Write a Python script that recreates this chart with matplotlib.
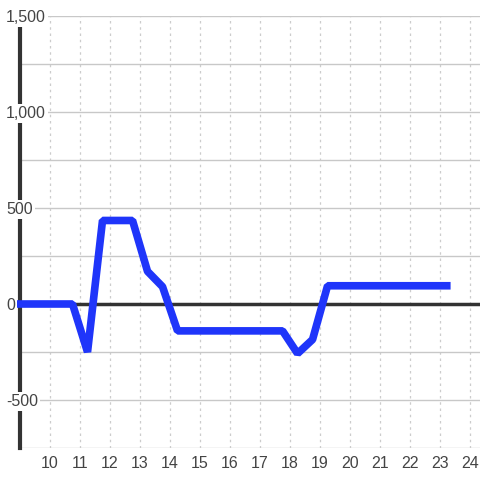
import matplotlib.pyplot as plt
import numpy as np

plt.rcParams["font.family"] = ["Liberation Sans", "DejaVu Sans"]

# data
hours = [8.9, 10.75, 11.25, 11.75, 12.75, 13.25, 13.75, 14.25, 17.75, 18.25, 18.75, 19.25, 23.35]
values = [0, 0, -250, 435, 435, 170, 90, -140, -140, -258, -185, 95, 95]

y_ticks = [1500, 1000, 500, 0, -500]
y_labels = ["1,500", "1,000", "500", "0", "-500"]
x_ticks = list(range(10, 25))

fig = plt.figure(figsize=(4.8, 4.8), dpi=100)
fig.patch.set_facecolor("white")
ax = fig.add_axes([20 / 480, 32 / 480, 460 / 480, 432 / 480])
ax.set_facecolor("white")

ax.set_xlim(9, 24.33)
ax.set_ylim(-750, 1500)

# grid
ax.set_yticks(np.arange(-750, 1501, 250))
ax.set_xticks(x_ticks)
ax.yaxis.grid(True, color="#c8c8c8", linewidth=1, linestyle="-")
ax.xaxis.grid(True, color="#cccccc", linewidth=0.9, linestyle=(0, (2, 3)))
ax.set_axisbelow(True)
ax.tick_params(axis="both", length=0)
ax.set_yticklabels([])
ax.set_xticklabels([str(t) for t in x_ticks], fontsize=11.5, color="#444444")
ax.tick_params(axis="x", pad=6)

for s in ["top", "right", "bottom"]:
    ax.spines[s].set_visible(False)
ax.spines["left"].set_color("#333333")
ax.spines["left"].set_linewidth(3)
ax.spines["left"].set_zorder(3)

ax.axhline(0, color="#333333", linewidth=2.5, zorder=3)
ax.plot(hours, values, color="#1f35fa", linewidth=5.5, solid_joinstyle="bevel",
        solid_capstyle="butt", zorder=4, clip_on=False)

# y labels sitting over the spine with white boxes
trans = ax.get_yaxis_transform()
for v, lab in zip(y_ticks, y_labels):
    ax.text(-14 / 460, v, lab, transform=trans, ha="left", va="center_baseline",
            fontsize=11.5, color="#444444", zorder=5,
            bbox=dict(facecolor="white", edgecolor="none", pad=1.5))

fig.savefig("out.png", dpi=100, facecolor="white")
